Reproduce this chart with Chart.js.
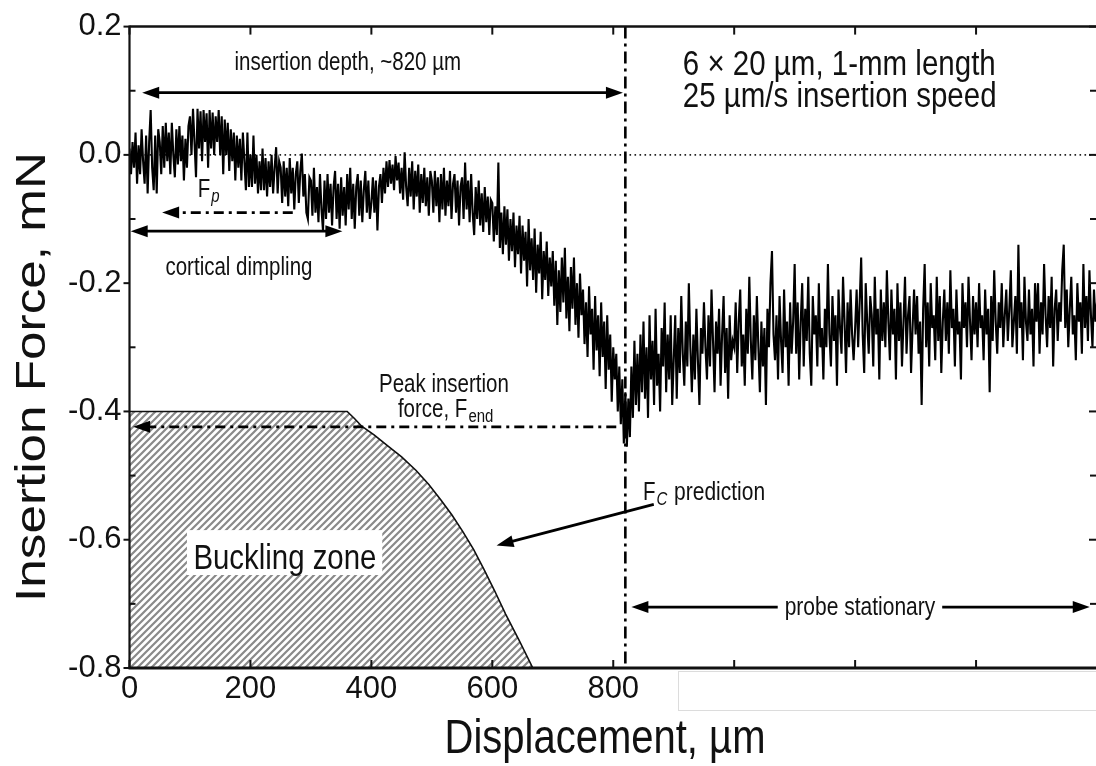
<!DOCTYPE html>
<html>
<head>
<meta charset="utf-8">
<script src="https://cdn.jsdelivr.net/npm/chart.js@4.4.0/dist/chart.umd.min.js"></script>
<style>
  html, body { margin: 0; padding: 0; background: #fff; overflow: hidden; }
  #wrap { width: 1096px; height: 766px; overflow: hidden; }
  canvas { display: block; }
</style>
</head>
<body>
<div id="wrap"><canvas id="myChart" width="1100" height="766"></canvas></div>
<script>
// measured force, one sample every 2.5 um of displacement (one row = 50 um)
const step = 2.5;
const force = [
  0.01, -0.03, 0.02, -0.02, 0.035, -0.045, 0.015, -0.03, 0.04, -0.01, -0.045, 0.03, -0.06, 0.02, 0.07, -0.02, -0.055, 0.03, -0.06, 0.04,
  0.02, -0.03, 0.045, -0.02, 0.05, -0.01, 0.035, -0.03, 0.05, 0.00, -0.035, 0.04, -0.015, 0.045, -0.01, 0.03, -0.04, 0.025, -0.02, 0.045,
  0.06, 0.00, 0.072, 0.02, -0.035, 0.072, 0.01, 0.068, -0.01, 0.07, 0.02, 0.065, -0.02, 0.07, 0.01, 0.066, 0.00, 0.06, 0.02, 0.07,
  0.00, 0.06, -0.03, 0.055, 0.00, 0.05, -0.025, 0.04, -0.01, 0.035, -0.04, 0.03, -0.02, 0.025, -0.04, 0.035, -0.01, -0.055, 0.035, -0.05,
  0.00, -0.05, 0.03, -0.045, 0.00, -0.06, -0.01, -0.055, 0.01, -0.055, -0.005, -0.065, -0.01, -0.05, 0.00, -0.06, -0.02, 0.012, -0.06, -0.01,
  -0.02, -0.075, -0.01, -0.065, -0.02, -0.08, -0.005, -0.06, -0.02, -0.085, -0.03, -0.01, -0.075, -0.025, 0.002, -0.065, -0.03, -0.09, -0.10, -0.035,
  -0.04, -0.095, -0.02, -0.09, -0.05, -0.105, -0.03, -0.085, -0.118, -0.04, -0.10, -0.03, -0.09, -0.045, -0.11, -0.05, -0.025, -0.10, -0.045, -0.115,
  -0.035, -0.095, -0.05, -0.11, -0.03, -0.085, -0.02, -0.10, -0.045, -0.115, -0.05, -0.03, -0.095, -0.04, -0.105, -0.055, -0.025, -0.09, -0.04, -0.10,
  -0.075, -0.035, -0.09, -0.04, -0.118, -0.05, -0.03, -0.075, -0.02, -0.06, -0.01, -0.05, -0.008, -0.045, -0.015, -0.055, -0.002, -0.04, -0.012, -0.06,
  -0.02, -0.07, 0.004, -0.05, -0.08, -0.02, -0.065, -0.01, -0.085, -0.025, -0.065, -0.015, -0.09, -0.03, -0.075, -0.02, -0.08, -0.035, -0.095, -0.025,
  -0.04, -0.09, -0.025, -0.08, -0.035, -0.105, -0.03, -0.085, -0.02, -0.095, -0.04, -0.08, -0.025, -0.10, -0.045, -0.03, -0.09, -0.04, -0.11, -0.05,
  -0.035, -0.10, -0.012, -0.085, -0.04, -0.105, -0.03, -0.09, -0.125, -0.05, -0.10, -0.04, -0.11, -0.06, -0.12, -0.05, -0.105, -0.065, -0.125, -0.07,
  -0.075, -0.135, -0.08, -0.125, -0.012, -0.145, -0.09, -0.155, -0.08, -0.14, -0.085, -0.165, -0.10, -0.15, -0.09, -0.175, -0.11, -0.155, -0.095, -0.185,
  -0.11, -0.165, -0.12, -0.205, -0.10, -0.18, -0.13, -0.195, -0.115, -0.215, -0.14, -0.185, -0.12, -0.225, -0.15, -0.195, -0.135, -0.22, -0.16, -0.205,
  -0.15, -0.235, -0.165, -0.265, -0.18, -0.245, -0.16, -0.23, -0.145, -0.255, -0.19, -0.275, -0.175, -0.24, -0.16, -0.265, -0.20, -0.285, -0.185, -0.25,
  -0.21, -0.295, -0.23, -0.315, -0.205, -0.28, -0.24, -0.335, -0.22, -0.305, -0.25, -0.345, -0.23, -0.315, -0.26, -0.365, -0.25, -0.335, -0.28, -0.385,
  -0.30, -0.35, -0.31, -0.40, -0.33, -0.42, -0.35, -0.45, -0.37, -0.455, -0.38, -0.44, -0.33, -0.41, -0.29, -0.39, -0.31, -0.40, -0.28, -0.37,
  -0.26, -0.38, -0.30, -0.41, -0.25, -0.35, -0.29, -0.39, -0.24, -0.36, -0.31, -0.40, -0.27, -0.33, -0.23, -0.37, -0.28, -0.35, -0.25, -0.39,
  -0.32, -0.25, -0.38, -0.27, -0.34, -0.22, -0.31, -0.36, -0.26, -0.33, -0.20, -0.30, -0.37, -0.28, -0.35, -0.24, -0.32, -0.39, -0.27, -0.31,
  -0.23, -0.30, -0.35, -0.25, -0.33, -0.21, -0.29, -0.37, -0.26, -0.31, -0.24, -0.36, -0.28, -0.22, -0.34, -0.27, -0.38, -0.25, -0.32, -0.29,
  -0.30, -0.23, -0.34, -0.26, -0.21, -0.33, -0.28, -0.36, -0.24, -0.31, -0.19, -0.29, -0.35, -0.25, -0.32, -0.22, -0.30, -0.37, -0.26, -0.33,
  -0.27, -0.39, -0.24, -0.30, -0.20, -0.15, -0.28, -0.32, -0.25, -0.35, -0.22, -0.29, -0.34, -0.21, -0.30, -0.26, -0.36, -0.23, -0.31, -0.26,
  -0.17, -0.31, -0.23, -0.35, -0.26, -0.20, -0.33, -0.24, -0.29, -0.19, -0.31, -0.36, -0.22, -0.28, -0.25, -0.33, -0.20, -0.30, -0.27, -0.35,
  -0.24, -0.30, -0.17, -0.28, -0.33, -0.22, -0.29, -0.25, -0.36, -0.21, -0.27, -0.31, -0.19, -0.26, -0.34, -0.23, -0.30, -0.21, -0.28, -0.32,
  -0.27, -0.21, -0.30, -0.23, -0.16, -0.28, -0.34, -0.20, -0.26, -0.31, -0.22, -0.25, -0.33, -0.19, -0.28, -0.24, -0.35, -0.21, -0.29, -0.23,
  -0.30, -0.18, -0.26, -0.32, -0.21, -0.28, -0.24, -0.35, -0.20, -0.29, -0.23, -0.33, -0.26, -0.19, -0.31, -0.25, -0.22, -0.34, -0.27, -0.21,
  -0.28, -0.22, -0.31, -0.26, -0.39, -0.24, -0.17, -0.30, -0.23, -0.33, -0.20, -0.27, -0.25, -0.32, -0.19, -0.29, -0.22, -0.34, -0.26, -0.21,
  -0.29, -0.23, -0.31, -0.18, -0.27, -0.24, -0.33, -0.21, -0.28, -0.26, -0.35, -0.20, -0.27, -0.23, -0.30, -0.19, -0.26, -0.32, -0.22, -0.28,
  -0.23, -0.30, -0.20, -0.27, -0.25, -0.32, -0.21, -0.28, -0.24, -0.37, -0.22, -0.29, -0.18, -0.26, -0.31, -0.23, -0.27, -0.20, -0.30, -0.25,
  -0.21, -0.29, -0.24, -0.18, -0.30, -0.26, -0.22, -0.31, -0.14, -0.27, -0.23, -0.32, -0.19, -0.26, -0.29, -0.21, -0.28, -0.24, -0.33, -0.20,
  -0.26, -0.20, -0.31, -0.23, -0.28, -0.17, -0.25, -0.30, -0.22, -0.27, -0.19, -0.33, -0.24, -0.21, -0.29, -0.23, -0.26, -0.18, -0.14, -0.27,
  -0.21, -0.30, -0.24, -0.19, -0.28, -0.25, -0.32, -0.20, -0.26, -0.23, -0.31, -0.17, -0.27, -0.22, -0.29, -0.18, -0.25, -0.30, -0.21, -0.26,
  -0.23
];

// buckling limit (F_C prediction) outline
const bucklingX = [0, 360, 372, 384, 405, 426, 450, 474, 495, 515, 533, 551, 569, 586, 604, 622, 645, 667];
const bucklingY = [-0.4, -0.4, -0.411, -0.423, -0.437, -0.453, -0.471, -0.492, -0.514, -0.538, -0.561, -0.587, -0.615, -0.646, -0.680, -0.716, -0.758, -0.8];

const xTickValues = [0, 200, 400, 600, 800, 1000, 1200, 1400, 1600];
const xTickLabels = ['0', '200', '400', '600', '800', '', '', '', ''];
const yTickValues = [-0.8, -0.6, -0.4, -0.2, 0, 0.2];
const yTickLabels = ['-0.8', '-0.6', '-0.4', '-0.2', '0.0', '0.2'];
const yMinorTicks = [0.1, -0.1, -0.3, -0.5, -0.7];

const insertionDepth = 820;
const peakForce = -0.424;

const STRETCH = 1.22;
const SANS = '"Liberation Sans", Arial, sans-serif';

function hasFont(name) {
    const c = document.createElement('canvas').getContext('2d');
    c.font = '40px monospace';
    const w0 = c.measureText('0.2 -0.4 200').width;
    c.font = '40px "' + name + '", monospace';
    return c.measureText('0.2 -0.4 200').width !== w0;
}
const narrow = hasFont('Liberation Sans Narrow');
const tickFont = narrow ? { family: '"Liberation Sans Narrow"', size: 36 } : { family: '"Liberation Sans"', size: 31 };

const canvas = document.getElementById('myChart');

function makeHatch() {
    const t = document.createElement('canvas');
    t.width = 7; t.height = 7;
    const g = t.getContext('2d');
    g.strokeStyle = '#8a8a8a';
    g.lineWidth = 2.2;
    g.beginPath();
    g.moveTo(-1, 8); g.lineTo(8, -1);
    g.moveTo(-2, 2); g.lineTo(2, -2);
    g.moveTo(5, 9); g.lineTo(9, 5);
    g.stroke();
    return canvas.getContext('2d').createPattern(t, 'repeat');
}

function seg(ctx, x1, y1, x2, y2) {
    ctx.beginPath(); ctx.moveTo(x1, y1); ctx.lineTo(x2, y2); ctx.stroke();
}

// arrow head at (x2, y2) coming from (x1, y1); returns the point where the shaft should end
function head(ctx, x1, y1, x2, y2) {
    const a = Math.atan2(y2 - y1, x2 - x1), L = 17, W = 6;
    const bx = x2 - L * Math.cos(a), by = y2 - L * Math.sin(a);
    ctx.beginPath();
    ctx.moveTo(x2, y2);
    ctx.lineTo(bx + W * Math.sin(a), by - W * Math.cos(a));
    ctx.lineTo(bx - W * Math.sin(a), by + W * Math.cos(a));
    ctx.closePath();
    ctx.fill();
    return [bx + 2 * Math.cos(a), by + 2 * Math.sin(a)];
}

function arrow(ctx, x1, y1, x2, y2, both, dash) {
    ctx.save();
    ctx.fillStyle = '#000'; ctx.strokeStyle = '#000'; ctx.lineWidth = 2.8;
    const e = head(ctx, x1, y1, x2, y2);
    let s = [x1, y1];
    if (both) s = head(ctx, x2, y2, x1, y1);
    ctx.setLineDash(dash || []);
    seg(ctx, s[0], s[1], e[0], e[1]);
    ctx.restore();
}

function text(ctx, str, x, y, size, align, italic) {
    ctx.save();
    ctx.translate(x, y);
    ctx.scale(1, STRETCH);
    ctx.font = (italic ? 'italic ' : '') + size + 'px ' + SANS;
    ctx.textAlign = align || 'left';
    ctx.textBaseline = 'alphabetic';
    ctx.fillStyle = '#111';
    ctx.fillText(str, 0, 0);
    const w = ctx.measureText(str).width;
    ctx.restore();
    return w;
}

const decorations = {
    id: 'decorations',
    beforeDatasetsDraw(chart) {
        const { ctx, chartArea: a, scales: { y } } = chart;
        ctx.save();
        ctx.strokeStyle = '#222'; ctx.lineWidth = 1.6; ctx.setLineDash([1.6, 3.4]);
        seg(ctx, a.left, y.getPixelForValue(0), a.right, y.getPixelForValue(0));
        ctx.restore();
    },
    afterDatasetsDraw(chart) {
        const { ctx, chartArea: a, scales: { x, y } } = chart;
        const X = v => x.getPixelForValue(v), Y = v => y.getPixelForValue(v);

        // end of insertion
        ctx.save();
        ctx.strokeStyle = '#000'; ctx.lineWidth = 2.6; ctx.setLineDash([12, 5, 3, 5]);
        seg(ctx, X(insertionDepth), a.top, X(insertionDepth), a.bottom);
        ctx.restore();

        // buckling zone label
        ctx.save();
        ctx.fillStyle = '#fff';
        ctx.fillRect(X(95), Y(-0.585), X(418) - X(95), Y(-0.655) - Y(-0.585));
        ctx.restore();
        text(ctx, 'Buckling zone', X(257), Y(-0.645), 29.4, 'center');

        // arrows
        arrow(ctx, X(816), Y(0.097), X(21), Y(0.097), true);
        arrow(ctx, X(270), Y(-0.090), X(54), Y(-0.090), false, [10, 5, 3, 5]);
        arrow(ctx, X(352), Y(-0.119), X(2), Y(-0.119), true);
        arrow(ctx, X(805), Y(peakForce), X(6), Y(peakForce), false, [10, 5, 3, 5]);
        arrow(ctx, X(867), Y(-0.545), X(607), Y(-0.609), false);

        // probe stationary, broken around its label
        ctx.save();
        ctx.strokeStyle = '#000'; ctx.fillStyle = '#000'; ctx.lineWidth = 2.8;
        const py = Y(-0.705);
        const l = head(ctx, X(1100), py, X(830), py);
        const r = head(ctx, X(1300), py, X(1588), py);
        seg(ctx, l[0], py, X(1072), py);
        seg(ctx, X(1344), py, r[0], py);
        ctx.restore();
    },
    afterDraw(chart) {
        const { ctx, chartArea: a, scales: { x, y } } = chart;
        const X = v => x.getPixelForValue(v), Y = v => y.getPixelForValue(v);

        // frame
        ctx.save();
        ctx.strokeStyle = '#111';
        ctx.lineWidth = 2.2; seg(ctx, a.left, a.top - 1, a.left, a.bottom + 1);
        ctx.lineWidth = 2.5; seg(ctx, a.left, a.top, a.right, a.top);
        ctx.lineWidth = 3; seg(ctx, a.left - 1, a.bottom, a.right, a.bottom);
        ctx.lineWidth = 2; seg(ctx, a.right, a.top, a.right, a.bottom);

        // ticks
        ctx.lineWidth = 2;
        xTickValues.forEach(v => {
            seg(ctx, X(v), a.bottom, X(v), a.bottom - 8);
            seg(ctx, X(v), a.top, X(v), a.top + 8);
        });
        yTickValues.forEach(v => {
            seg(ctx, a.left, Y(v), a.left - 6, Y(v));
            seg(ctx, a.right, Y(v), a.right - 8, Y(v));
        });
        yMinorTicks.forEach(v => {
            seg(ctx, a.left, Y(v), a.left + 6, Y(v));
            seg(ctx, a.right, Y(v), a.right - 7, Y(v));
        });

        // blank strip over the unlabelled part of the x axis
        ctx.fillStyle = '#fff';
        ctx.fillRect(678, a.bottom + 3, 430, 40);
        ctx.strokeStyle = '#dcdcdc'; ctx.lineWidth = 1;
        ctx.strokeRect(678.5, a.bottom + 3.5, 430, 39);
        ctx.restore();

        // annotation texts
        text(ctx, 'insertion depth, ~820 \u00b5m', X(361), Y(0.133), 20.5, 'center');
        text(ctx, '6 \u00d7 20 \u00b5m, 1-mm length', X(915), Y(0.124), 29.5, 'left');
        text(ctx, '25 \u00b5m/s insertion speed', X(915), Y(0.074), 29.5, 'left');

        let w = text(ctx, 'F', X(113), Y(-0.065), 20.5, 'left');
        text(ctx, 'p', X(113) + w + 1, Y(-0.065) + 5, 15, 'left', true);

        text(ctx, 'cortical dimpling', X(181), Y(-0.188), 20.5, 'center');

        text(ctx, 'Peak insertion', X(520), Y(-0.370), 20.5, 'center');
        ctx.save();
        ctx.font = '20.5px ' + SANS;
        const w1 = ctx.measureText('force, F').width;
        ctx.font = '15px ' + SANS;
        const w2 = ctx.measureText('end').width;
        ctx.restore();
        const sx = X(522) - (w1 + w2) / 2;
        text(ctx, 'force, F', sx, Y(-0.408), 20.5, 'left');
        text(ctx, 'end', sx + w1 + 1, Y(-0.408) + 5, 15, 'left');

        w = text(ctx, 'F', X(849), Y(-0.538), 20.5, 'left');
        const wc = text(ctx, 'C', X(849) + w + 1, Y(-0.538) + 5, 15, 'left', true);
        text(ctx, ' prediction', X(849) + w + wc + 2, Y(-0.538), 21, 'left');

        text(ctx, 'probe stationary', X(1208), Y(-0.718), 21, 'center');

        // axis titles
        text(ctx, 'Displacement, \u00b5m', 605, 753, 40, 'center');
        ctx.save();
        ctx.translate(45, 377);
        ctx.rotate(-Math.PI / 2);
        ctx.scale(STRETCH, 1);
        ctx.font = '42px ' + SANS;
        ctx.textAlign = 'center';
        ctx.textBaseline = 'alphabetic';
        ctx.fillStyle = '#111';
        ctx.fillText('Insertion Force, mN', 0, 0);
        ctx.restore();
    }
};

const config = {
    type: 'line',
    data: {
        datasets: [{
            label: 'insertion force',
            data: force.map((v, i) => ({ x: i * step, y: v })),
            borderColor: '#000',
            borderWidth: 2.1,
            borderJoinStyle: 'miter',
            pointRadius: 0,
            tension: 0,
            fill: false,
            order: 1
        }, {
            label: 'buckling zone',
            data: bucklingX.map((v, i) => ({ x: v, y: bucklingY[i] })),
            borderColor: '#111',
            borderWidth: 1.6,
            backgroundColor: makeHatch(),
            pointRadius: 0,
            tension: 0,
            fill: 'start',
            order: 2
        }]
    },
    options: {
        responsive: false,
        animation: false,
        devicePixelRatio: 1,
        layout: { padding: { top: 21, right: 2.5, left: 0, bottom: 0 } },
        plugins: { legend: { display: false }, tooltip: { enabled: false } },
        scales: {
            x: {
                type: 'linear',
                min: 0,
                max: 1600,
                grid: { display: false, drawTicks: false },
                border: { display: false },
                afterBuildTicks: s => { s.ticks = xTickValues.map(v => ({ value: v })); },
                afterFit: s => { s.height = 98; },
                ticks: {
                    autoSkip: false,
                    maxRotation: 0,
                    padding: 3,
                    color: '#111',
                    font: tickFont,
                    callback: v => xTickLabels[xTickValues.indexOf(v)]
                }
            },
            y: {
                min: -0.8,
                max: 0.2,
                grid: { display: false, drawTicks: false },
                border: { display: false },
                afterBuildTicks: s => { s.ticks = yTickValues.map(v => ({ value: v })); },
                afterFit: s => { s.width = 129.5; },
                ticks: {
                    autoSkip: false,
                    padding: 8,
                    color: '#111',
                    font: tickFont,
                    callback: v => yTickLabels[yTickValues.indexOf(v)]
                }
            }
        }
    },
    plugins: [decorations]
};

const myChart = new Chart(canvas, config);
</script>
</body>
</html>
